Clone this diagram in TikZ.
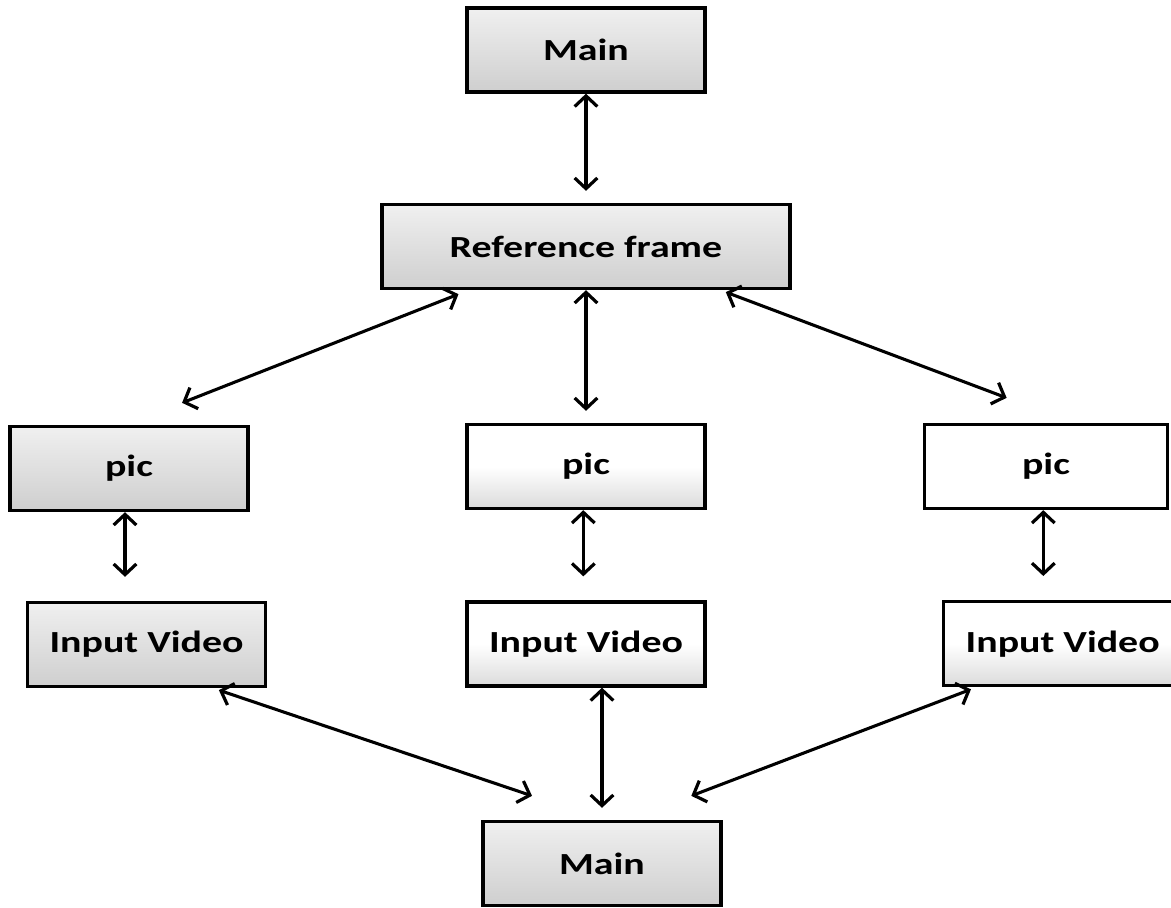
\documentclass[tikz,border=0pt]{standalone}
\usepackage{fontspec}
\setmainfont{Carlito}
\newfontfamily\boxfont[FakeStretch=1.3]{Carlito}
\usetikzlibrary{arrows.meta,calc}
\begin{document}
\begin{tikzpicture}[x=0.75pt,y=-0.75pt,
  box/.style={draw=black, line width=2.5pt, minimum width=178.5pt, minimum height=63pt,
    inner sep=0pt, font=\boxfont\fontsize{23}{26}\selectfont\bfseries},
  greybox/.style={box, top color=gray!12, bottom color=gray!38},
  lightbox/.style={box, top color=white, bottom color=gray!28, middle color=white},
  plainbox/.style={box, fill=white},
  tip/.style={Straight Barb[length=8pt,width=17pt,line width=2.4pt]},
  link/.style={line width=2.3pt, {Straight Barb[length=8pt,width=17pt,line width=2.4pt]}-{Straight Barb[length=8pt,width=17pt,line width=2.4pt]}}]
\useasboundingbox (0,0) rectangle (1171,907);
\clip (0,0) rectangle (1171,907);

% boxes
\node[greybox] (maintop) at (586,50) {Main};
\node[greybox, minimum width=306pt] (ref) at (586,246.5) {Reference frame};
\node[greybox] (picL) at (129,468.5) {pic};
\node[lightbox] (picM) at (586,466.5) {pic};
\node[plainbox, minimum width=182pt] (picR) at (1046,466.5) {pic};
\node[greybox] (ivL) at (146.5,644.5) {Input Video};
\node[lightbox] (ivM) at (586,644) {Input Video};
\node[lightbox, anchor=north west] (ivR) at (942,600) {Input Video};
\node[greybox] (mainbot) at (602,863.5) {Main};

% connectors
\draw[link, shorten >=9pt] (maintop) -- (ref);
\draw[link, shorten >=9pt] (ref) -- (picM);
\draw[link] ($(ref.south west)!0.19!(ref.south east)+(0,4)$) -- ($(picL.north west)!0.72!(picL.north east)+(0,-22)$);
\draw[link] ($(ref.south west)!0.84!(ref.south east)+(0,2)$) -- ($(picR.north west)!0.34!(picR.north east)+(0,-25)$);

\draw[link, shorten >=18pt] ([xshift=-3pt]picL.south) -- ([xshift=-3pt]picL.south |- ivL.north);
\draw[link, shorten >=18pt] ([xshift=-2pt]picM.south) -- ([xshift=-2pt]picM.south |- ivM.north);
\draw[link, shorten >=18pt] ([xshift=-2pt]picR.south) -- ([xshift=-2pt]picR.south |- ivR.north);

\draw[link] ($(ivL.south west)!0.80!(ivL.south east)+(0,2)$) -- ($(mainbot.north west)!0.21!(mainbot.north east)+(0,-24)$);
\draw[link, shorten >=9pt] (ivM.south -| mainbot.north) -- (mainbot.north);
\draw[link] ($(ivR.south west)!0.12!(ivR.south east)+(0,2)$) -- ($(mainbot.north west)!0.87!(mainbot.north east)+(0,-24)$);
\end{tikzpicture}
\end{document}
